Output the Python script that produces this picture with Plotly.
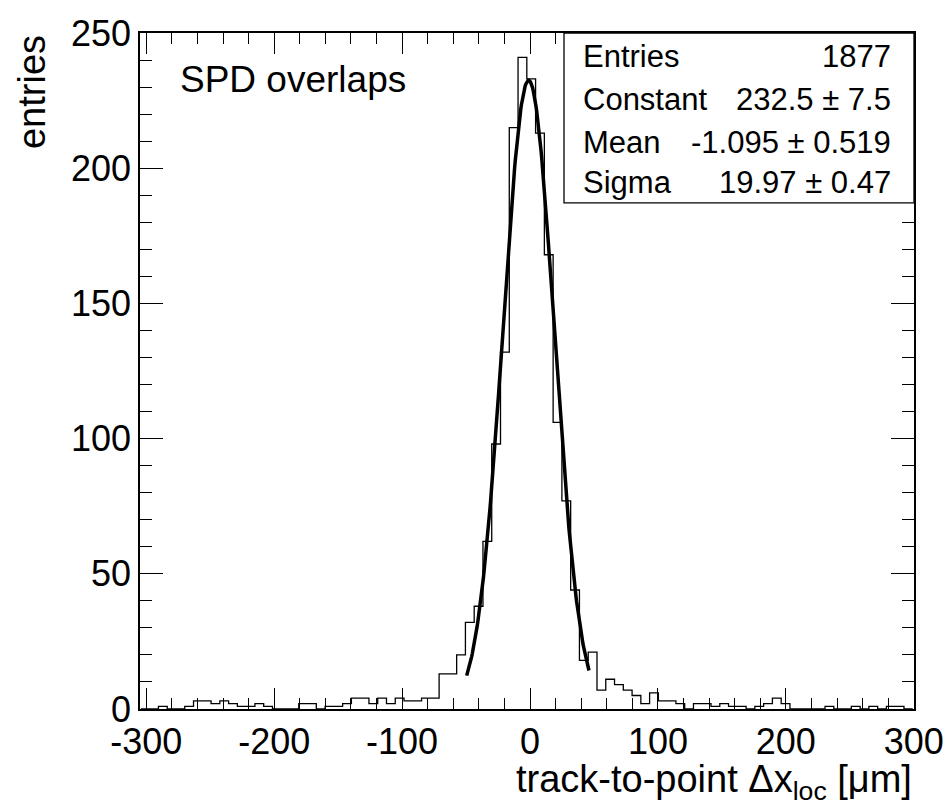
import numpy as np
import plotly.graph_objects as go


# --------------------------------------------------
# histogram data
# --------------------------------------------------

x_low = -304.2        # low edge of first bin [um]
bin_width = 6.857     # [um]

counts = [
    0, 0, 1, 0, 0, 1, 3, 3, 2, 3, 2, 1, 1, 2, 1, 0, 0, 0, 2, 2,
    0, 1, 1, 2, 4, 4, 2, 4, 2, 4, 3, 3, 4, 4,
    13, 13, 20, 32, 38, 62, 98, 132, 215, 241, 233, 213, 168, 106, 77, 44, 18, 21,
    7, 11, 9, 7, 5, 2, 6, 3, 3, 2, 0, 2, 2, 1, 2, 1, 1, 0, 1, 2,
    4, 2, 0, 0, 0, 0, 1, 0, 0, 1, 0, 1, 0, 1, 1, 0,
]

# gaussian fit parameters (stats box)
fit_constant = 232.5
fit_mean = -1.095
fit_sigma = 19.97
fit_range = [-49.5, 46.1]

stat_names = ["Entries", "Constant", "Mean", "Sigma"]
stat_values = ["1877", "232.5 ± 7.5", "-1.095 ± 0.519", "19.97 ± 0.47"]

x_tickvals = [-300, -200, -100, 0, 100, 200, 300]
x_ticktext = ["-300", "-200", "-100", "0", "100", "200", "300"]
y_tickvals = [0, 50, 100, 150, 200, 250]
y_ticktext = ["0", "50", "100", "150", "200", "250"]

FONT = "Liberation Sans"

# --------------------------------------------------
# figure
# --------------------------------------------------

fig = go.Figure()

# step outline, one point per bin low edge plus the last high edge
fig.add_trace(go.Scatter(
    x0=x_low,
    dx=bin_width,
    y=counts + [counts[-1]],
    mode="lines",
    line=dict(color="black", width=1.3, shape="hv"),
    hoverinfo="skip",
    showlegend=False,
))

xf = np.linspace(fit_range[0], fit_range[1], 200)
yf = fit_constant * np.exp(-0.5 * ((xf - fit_mean) / fit_sigma) ** 2)
fig.add_trace(go.Scatter(
    x=xf, y=yf,
    mode="lines",
    line=dict(color="black", width=3.5),
    showlegend=False,
))

axis_common = dict(
    automargin=False,
    showgrid=False,
    zeroline=False,
    showline=True,
    linecolor="black",
    linewidth=1.5,
    mirror="ticks",
    ticks="inside",
    tickcolor="black",
    tickwidth=1.2,
    tickfont=dict(family=FONT, size=36, color="black"),
)

fig.update_xaxes(
    **axis_common,
    range=[-304.9, 300.2],
    tickvals=x_tickvals,
    ticktext=x_ticktext,
    ticklen=21,
    minor=dict(dtick=20, tick0=0, ticks="inside", ticklen=11,
               tickcolor="black", tickwidth=1.2),
)

fig.update_yaxes(
    **axis_common,
    range=[0, 250],
    tickvals=y_tickvals,
    ticktext=y_ticktext,
    ticklen=23,
    minor=dict(dtick=10, tick0=0, ticks="inside", ticklen=12,
               tickcolor="black", tickwidth=1.2),
)

# stats box
fig.add_shape(
    type="rect", xref="paper", yref="paper",
    x0=0.5478, x1=1.0, y0=0.7486, y1=1.0,
    line=dict(color="black", width=1.3),
    fillcolor="white",
    layer="above",
)

row_y = [0.9657, 0.9016, 0.8379, 0.7787]
for name, val, yy in zip(stat_names, stat_values, row_y):
    fig.add_annotation(
        text=name, xref="paper", yref="paper", x=0.5694, y=yy,
        xanchor="left", yanchor="middle", showarrow=False,
        font=dict(family=FONT, size=31, color="black"),
    )
    fig.add_annotation(
        text=val, xref="paper", yref="paper", x=0.9729, y=yy,
        xanchor="right", yanchor="middle", showarrow=False,
        font=dict(family=FONT, size=31, color="black"),
    )

fig.add_annotation(
    text="SPD overlaps", xref="paper", yref="paper", x=0.0491, y=0.931,
    xanchor="left", yanchor="middle", showarrow=False,
    font=dict(family=FONT, size=37, color="black"),
)

# axis titles
fig.add_annotation(
    text="track-to-point Δx<sub>loc</sub> [μm]", xref="paper", yref="paper",
    x=1.0, y=-0.108, xanchor="right", yanchor="middle", showarrow=False,
    font=dict(family=FONT, size=38, color="black"),
)
fig.add_annotation(
    text="entries", xref="paper", yref="paper",
    x=-0.1395, y=1.0, xanchor="center", yanchor="top", showarrow=False,
    textangle=-90,
    font=dict(family=FONT, size=38, color="black"),
)

fig.update_layout(
    width=950,
    height=804,
    margin=dict(l=140, r=36, t=33, b=95),
    plot_bgcolor="white",
    paper_bgcolor="white",
    font=dict(family=FONT, color="black"),
)

# no page margin so the figure fills the window exactly
fig.write_html(
    "out.html",
    config={"displayModeBar": False},
    post_script="document.body.style.margin='0';document.body.style.overflow='hidden';",
)
